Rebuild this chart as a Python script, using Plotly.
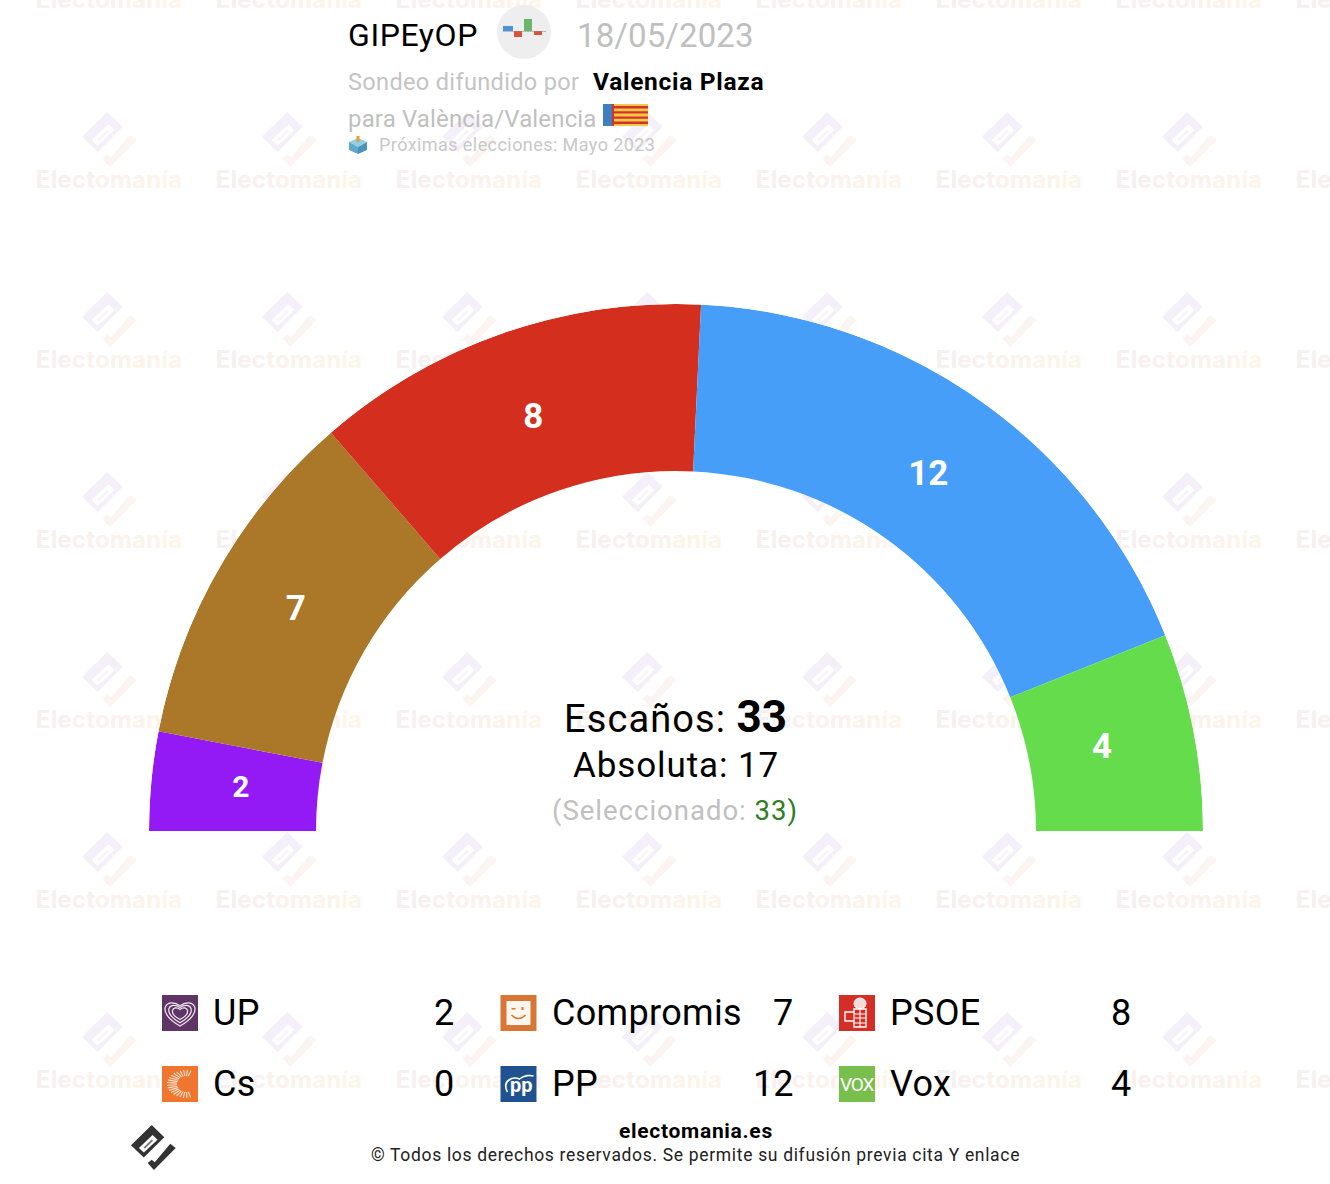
import numpy as np
import plotly.graph_objects as go

# seats per party, in the order they sit in the hemicycle
parties = ['UP', 'Compromis', 'PSOE', 'Cs', 'PP', 'Vox']
seats = [2, 7, 8, 0, 12, 4]
colors = ['#9319f5', '#ab7728', '#d42f1e', '#f0752f', '#469ef9', '#64dc4b']
label_sizes = [30, 35, 35, 35, 35, 35]
label_radius = [437, 439, 436, 436, 435, 434]

# legend reading order
legend_cols = [['UP', 'Cs'], ['Compromis', 'PP'], ['PSOE', 'Vox']]

total_seats = 33
majority = 17
selected = 33

cx_left, cx_right = 149, 1203
top, bottom = 304, 831
r_outer, r_inner = 527, 360

# angles of the wedges, 0 is on the left
s = np.array(seats, dtype=float)
ends = np.cumsum(s) / s.sum() * 180
spans = s / s.sum() * 180
mids = ends - spans / 2

W, H = 1330, 1184
fig = go.Figure()

shapes = []
annots = []


def poly(pts):
    return 'M ' + ' L '.join(f'{x:.2f},{y:.2f}' for x, y in pts) + ' Z'


def add_path(path, fill, line=None, width=0, layer='below'):
    shapes.append(dict(type='path', path=path, xref='x', yref='y', fillcolor=fill, layer=layer,
                       line=dict(color=line or 'rgba(0,0,0,0)', width=width)))


def add_rect(x0, y0, x1, y1, fill):
    shapes.append(dict(type='rect', x0=x0, y0=y0, x1=x1, y1=y1, xref='x', yref='y', fillcolor=fill,
                       layer='above', line=dict(width=0)))


def add_text(x, y, text, size, color='#000', anchor='left', weight=None, spacing=0):
    # annotations carry a small pad, take it off so x is the real edge of the text
    x = x + {'left': -2, 'center': 0, 'right': 2}[anchor]
    if spacing:
        text = f'<span style="letter-spacing:{spacing}px">{text}</span>'
    annots.append(dict(x=x, y=y, xref='x', yref='y', text=text, showarrow=False, xanchor=anchor, yanchor='middle',
                       font=dict(family='Roboto', size=size, color=color, weight=weight)))


# electomania logo, points as fractions of its bounding box
logo_body = [(0.46, 0), (0.74, 0.27), (0.285, 0.725), (0, 0.45)]
logo_slot = [(0.176, 0.51), (0.48, 0.224), (0.588, 0.327), (0.285, 0.612)]
logo_core = [(0.28, 0.50), (0.46, 0.32), (0.49, 0.35), (0.31, 0.53)]
logo_hook = [(0.873, 0.418), (0.994, 0.509), (0.509, 1), (0.37, 0.842), (0.46, 0.77), (0.527, 0.83)]


def add_logo(x0, y0, size, body, hook, core, layer='below'):
    place = lambda pts: [(x0 + px * size, y0 + py * size) for px, py in pts]
    add_path(poly(place(logo_body)), body, layer=layer)
    add_path(poly(place(logo_slot)), '#ffffff', layer=layer)
    add_path(poly(place(logo_core)), core, layer=layer)
    add_path(poly(place(logo_hook)), hook, layer=layer)


# watermark grid behind everything
wm_word = 'Electomanía'
wm_colors = ['#f7f0f1', '#f7f0f1', '#f8f0f0', '#f9f1ef', '#faf1ee', '#fbf2ec', '#fbf2eb', '#fcf3ea', '#fcf4e9', '#fdf5e9', '#fdf5e9']
wm_text = '<span style="letter-spacing:0.2px">' + ''.join(f'<span style="color:{c}">{ch}</span>' for ch, c in zip(wm_word, wm_colors)) + '</span>'
wm_x, wm_y = [], []
for col in range(8):
    for row in range(7):
        x, y = 109 + 180 * col, 180 * row
        wm_x.append(x)
        wm_y.append(y + 2)
        add_logo(x - 27, y - 68, 55, '#f4eff8', '#fbf4f0', '#f8f4fa')

fig.add_trace(go.Scatter(x=wm_x, y=wm_y, mode='text', text=[wm_text] * len(wm_x),
                         textfont=dict(family='Inter', size=24, color='#f8efec', weight=700),
                         hoverinfo='skip', showlegend=False))

# the hemicycle
fig.add_trace(go.Barpolar(r=[r_outer - r_inner] * len(seats), base=[r_inner] * len(seats), theta=mids, width=spans,
                          marker=dict(color=colors, line=dict(width=0)), opacity=1,
                          hoverinfo='skip', showlegend=False))

shown = s > 0
fig.add_trace(go.Scatterpolar(r=np.array(label_radius)[shown], theta=mids[shown], mode='text',
                              text=[str(v) for v in s[shown].astype(int)],
                              textfont=dict(family='Roboto', color='white', weight=700,
                                            size=[z for z, k in zip(label_sizes, shown) if k]),
                              hoverinfo='skip', showlegend=False))

# header
add_text(348, 35, 'GIPEyOP', 32, spacing=0.6)
shapes.append(dict(type='circle', x0=497, y0=5, x1=551, y1=59, xref='x', yref='y', fillcolor='#efeeee',
                   layer='above', line=dict(width=0)))
add_rect(503, 26, 513, 31, '#4d93d3')
add_rect(514, 31, 522, 37, '#d9543f')
add_rect(524, 19, 532, 31, '#6db56b')
add_rect(534, 31, 542, 35, '#d9543f')
add_rect(503, 31, 546, 31.6, '#8a8a8a')
add_text(577, 35, '18/05/2023', 33, '#c0c0c0', spacing=0.1)
add_text(348, 81.5, 'Sondeo difundido por', 23.5, '#c4c4c4', spacing=0.35)
add_text(593, 81.5, 'Valencia Plaza', 24.5, '#000', weight=700, spacing=0.7)
add_text(348, 119, 'para València/Valencia', 24, '#c0c0c0', spacing=0.15)
add_text(379, 144, 'Próximas elecciones: Mayo 2023', 18, '#c8c8c8', spacing=0.43)

# flag
add_rect(603, 104, 648, 126, '#f6c944')
for i in range(4):
    add_rect(613, 106 + i * 5.2, 648, 108.4 + i * 5.2, '#d2322a')
add_rect(603, 104, 612, 126, '#3f7fc0')
add_rect(612, 104, 614, 126, '#d2322a')

# ballot box
add_path(poly([(349, 142), (358, 138), (367, 142), (358, 147)]), '#8fd0e8', layer='above')
add_path(poly([(349, 142), (358, 147), (358, 154), (349, 150)]), '#5fa8cc', layer='above')
add_path(poly([(367, 142), (358, 147), (358, 154), (367, 150)]), '#4b93b8', layer='above')
add_rect(356.5, 136, 359.5, 142, '#ee9a35')

# centre of the hemicycle
add_text(675.5, 717, f'<span style="letter-spacing:1.1px">Escaños: </span><b style="font-size:44px">{total_seats}</b>', 38,
         anchor='center')
add_text(675.5, 765, f'Absoluta: {majority}', 35, anchor='center', spacing=0.9)
add_text(675, 810, f'(Seleccionado: <span style="color:#2f7d1f">{selected}</span><span style="color:#2f7d1f">)</span>', 27.5,
         '#c0c0c0', anchor='center', spacing=1)

# legend
col_x = [162, 500.5, 839]
num_x = [454, 793, 1131]
row_y = [1013, 1084]
seat_of = dict(zip(parties, seats))


def draw_icon(name, x, y):
    # x, y is the icon centre, all icons are 36 px wide
    base = {'UP': '#5f3566', 'Compromis': '#d97636', 'PSOE': '#d42f26', 'Cs': '#f0752f', 'PP': '#20528f', 'Vox': '#78c04b'}
    add_rect(x - 18, y - 18, x + 18, y + 18, base[name])
    if name == 'UP':
        for k in (1.0, 0.75, 0.5):
            a = 13 * k
            add_path(f'M {x},{y + a} C {x - 2 * a},{y - 0.1 * a} {x - a},{y - 1.3 * a} {x},{y - 0.55 * a} '
                     f'C {x + a},{y - 1.3 * a} {x + 2 * a},{y - 0.1 * a} {x},{y + a} Z',
                     'rgba(0,0,0,0)', '#f2e9f2', 1.2, layer='above')
    elif name == 'Compromis':
        add_rect(x - 12, y - 12, x + 12, y + 12, '#fff6ee')
        add_rect(x - 7, y - 5, x - 3, y - 3.5, base[name])
        add_rect(x + 3, y - 6, x + 5, y - 3, base[name])
        add_path(f'M {x - 7},{y + 2} Q {x},{y + 9} {x + 7},{y + 2}', 'rgba(0,0,0,0)', base[name], 1.6, layer='above')
    elif name == 'PSOE':
        shapes.append(dict(type='circle', x0=x - 3, y0=y - 15, x1=x + 9, y1=y - 4, xref='x', yref='y',
                           fillcolor='#f6dcd8', layer='above', line=dict(color='#ffffff', width=1)))
        add_path(poly([(x - 3, y - 4), (x + 9, y - 4), (x + 9, y + 14), (x - 3, y + 14), (x - 3, y + 8),
                       (x - 12, y + 8), (x - 12, y - 1), (x - 3, y - 1)]),
                 'rgba(0,0,0,0)', '#ffffff', 1.4, layer='above')
        add_path(f'M {x - 3},{y - 1} L {x - 3},{y + 8} M {x - 3},{y + 1} L {x + 9},{y + 1} '
                 f'M {x - 3},{y + 5} L {x + 9},{y + 5} M {x - 3},{y + 10} L {x + 9},{y + 10} '
                 f'M {x + 3},{y - 4} L {x + 3},{y + 14}', 'rgba(0,0,0,0)', '#ffffff', 1.1, layer='above')
    elif name == 'Cs':
        # short rays around a C that opens to the right
        for ang in np.arange(75, 290, 11):
            c, d = np.cos(np.radians(ang)), np.sin(np.radians(ang))
            add_path(f'M {x + 6 + 9 * c:.2f},{y - 8 * d:.2f} L {x + 6 + 19 * c:.2f},{y - 14 * d:.2f}',
                     'rgba(0,0,0,0)', '#fbe6d6', 1.1, layer='above')
    elif name == 'PP':
        add_text(x + 3, y + 1, 'pp', 20, '#ffffff', anchor='center', weight=700)
        add_path(f'M {x - 11},{y + 8} C {x - 17},{y - 3} {x - 6},{y - 8} {x + 1},{y - 5} C {x + 6},{y - 9} {x + 12},{y - 9} {x + 15},{y - 8}',
                 'rgba(0,0,0,0)', '#ffffff', 1.6, layer='above')
    elif name == 'Vox':
        add_text(x, y, 'VOX', 19, '#ffffff', anchor='center', spacing=-1.2)


for cx, nx, col in zip(col_x, num_x, legend_cols):
    for ry, name in zip(row_y, col):
        draw_icon(name, cx + 18, ry)
        add_text(cx + 51, ry, name, 36, spacing=0.33)
        add_text(nx, ry, str(seat_of[name]), 36, anchor='right')

# footer
add_logo(131, 1125, 45, '#333333', '#333333', '#777777', layer='above')
add_text(695.5, 1131, 'electomania.es', 21, '#000', anchor='center', weight=700, spacing=0.7)
add_text(695.5, 1155, '© Todos los derechos reservados. Se permite su difusión previa cita Y enlace', 17.5, '#222',
         anchor='center', spacing=0.67)

fig.update_layout(
    width=W, height=H, margin=dict(l=0, r=0, t=0, b=0),
    paper_bgcolor='white', plot_bgcolor='rgba(0,0,0,0)', showlegend=False,
    xaxis=dict(range=[0, W], domain=[0, 1], visible=False, fixedrange=True),
    yaxis=dict(range=[H, 0], domain=[0, 1], visible=False, fixedrange=True),
    polar=dict(
        domain=dict(x=[cx_left / W, cx_right / W], y=[1 - bottom / H, 1 - top / H]),
        sector=[0, 180], hole=0, bgcolor='rgba(0,0,0,0)', barmode='overlay',
        radialaxis=dict(range=[0, r_outer], visible=False),
        angularaxis=dict(direction='clockwise', rotation=180, visible=False),
    ),
    shapes=shapes, annotations=annots,
)

fig.write_html('out.html', post_script="document.body.style.margin='0';", config=dict(displayModeBar=False))
